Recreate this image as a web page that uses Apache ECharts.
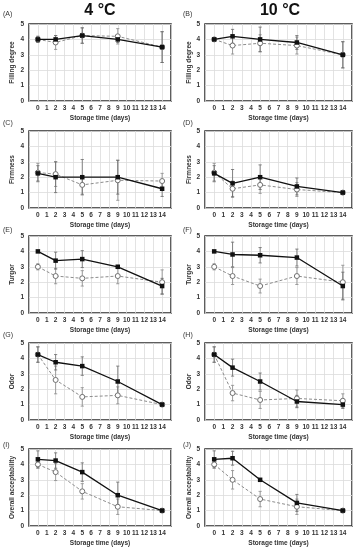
<!DOCTYPE html>
<html><head><meta charset="utf-8">
<script src="https://cdn.jsdelivr.net/npm/echarts@6/dist/echarts.min.js"></script>
<style>html,body{margin:0;padding:0;background:#fff}#c{width:360px;height:550px}</style>
</head><body><div id="c"></div>
<script>
// ---- data ----
const days = [0, 2, 5, 9, 14];
const xTickLabels = ['0','1','2','3','4','5','6','7','8','9','10','11','12','13','14'];
const yTicks = [0, 1, 2, 3, 4, 5];
const tempTitles = ['4 °C', '10 °C'];
const xName = 'Storage time (days)';

// (A) Filling degree 4 °C
const fill4Solid = [4.0, 4.0, 4.25, 4.0, 3.5];
const fill4SolidSd = [0.2, 0.25, 0.5, 0.2, 1.0];
const fill4Dashed = [4.0, 3.8, 4.25, 4.2, 3.5];
const fill4DashedSd = [0.2, 0.45, 0.5, 0.5, 1.0];
// (B) Filling degree 10 °C
const fill10Solid = [4.0, 4.2, 4.0, 3.8, 3.0];
const fill10SolidSd = [0.05, 0.45, 0.8, 0.45, 0.85];
const fill10Dashed = [4.0, 3.6, 3.75, 3.6, 3.0];
const fill10DashedSd = [0.05, 0.55, 0.55, 0.55, 0.85];
// (C) Firmness 4 °C
const firm4Solid = [2.25, 2.0, 2.0, 2.0, 1.25];
const firm4SolidSd = [0.5, 1.0, 1.15, 1.1, 0.5];
const firm4Dashed = [2.3, 2.2, 1.5, 1.8, 1.75];
const firm4DashedSd = [0.6, 0.8, 0.6, 1.3, 0.5];
// (D) Firmness 10 °C
const firm10Solid = [2.25, 1.6, 2.0, 1.4, 1.0];
const firm10SolidSd = [0.5, 0.9, 0.8, 0.55, 0.05];
const firm10Dashed = [2.3, 1.25, 1.5, 1.2, 1.0];
const firm10DashedSd = [0.6, 0.5, 0.55, 0.45, 0.05];
// (E) Turgor 4 °C
const turg4Solid = [4.0, 3.4, 3.5, 3.0, 1.75];
const turg4SolidSd = [0.05, 0.55, 0.55, 0.1, 0.5];
const turg4Dashed = [3.0, 2.4, 2.25, 2.4, 2.0];
const turg4DashedSd = [0.2, 0.5, 0.5, 0.5, 0.8];
// (F) Turgor 10 °C
const turg10Solid = [4.0, 3.8, 3.75, 3.6, 1.75];
const turg10SolidSd = [0.05, 0.8, 0.5, 0.55, 0.9];
const turg10Dashed = [3.0, 2.4, 1.75, 2.4, 2.0];
const turg10DashedSd = [0.2, 0.55, 0.45, 0.55, 1.1];
// (G) Odor 4 °C
const odor4Solid = [4.25, 3.75, 3.5, 2.5, 1.0];
const odor4SolidSd = [0.5, 0.5, 0.6, 1.0, 0.05];
const odor4Dashed = [4.25, 2.6, 1.5, 1.6, 1.0];
const odor4DashedSd = [0.5, 0.9, 0.6, 0.55, 0.05];
// (H) Odor 10 °C
const odor10Solid = [4.25, 3.4, 2.5, 1.2, 1.0];
const odor10SolidSd = [0.5, 0.55, 0.55, 0.4, 0.25];
const odor10Dashed = [4.25, 1.75, 1.3, 1.4, 1.25];
const odor10DashedSd = [0.5, 0.5, 0.55, 0.55, 0.45];
// (I) Overall acceptability 4 °C
const acc4Solid = [4.33, 4.25, 3.5, 2.0, 1.0];
const acc4SolidSd = [0.55, 0.5, 0.6, 0.85, 0.05];
const acc4Dashed = [4.0, 3.5, 2.25, 1.25, 1.0];
const acc4DashedSd = [0.25, 0.55, 0.5, 0.5, 0.05];
// (J) Overall acceptability 10 °C
const acc10Solid = [4.33, 4.4, 3.0, 1.5, 1.0];
const acc10SolidSd = [0.55, 0.45, 0.05, 0.55, 0.05];
const acc10Dashed = [4.0, 3.0, 1.75, 1.25, 1.0];
const acc10DashedSd = [0.25, 0.6, 0.5, 0.5, 0.05];

const panels = [
  {tag:'(A)', yName:'Filling degree', s:fill4Solid, se:fill4SolidSd, d:fill4Dashed, de:fill4DashedSd},
  {tag:'(B)', yName:'Filling degree', s:fill10Solid, se:fill10SolidSd, d:fill10Dashed, de:fill10DashedSd},
  {tag:'(C)', yName:'Firmness', s:firm4Solid, se:firm4SolidSd, d:firm4Dashed, de:firm4DashedSd},
  {tag:'(D)', yName:'Firmness', s:firm10Solid, se:firm10SolidSd, d:firm10Dashed, de:firm10DashedSd},
  {tag:'(E)', yName:'Turgor', s:turg4Solid, se:turg4SolidSd, d:turg4Dashed, de:turg4DashedSd},
  {tag:'(F)', yName:'Turgor', s:turg10Solid, se:turg10SolidSd, d:turg10Dashed, de:turg10DashedSd},
  {tag:'(G)', yName:'Odor', s:odor4Solid, se:odor4SolidSd, d:odor4Dashed, de:odor4DashedSd},
  {tag:'(H)', yName:'Odor', s:odor10Solid, se:odor10SolidSd, d:odor10Dashed, de:odor10DashedSd},
  {tag:'(I)', yName:'Overall acceptability', s:acc4Solid, se:acc4SolidSd, d:acc4Dashed, de:acc4DashedSd},
  {tag:'(J)', yName:'Overall acceptability', s:acc10Solid, se:acc10SolidSd, d:acc10Dashed, de:acc10DashedSd}
];

// ---- layout ----
const FONT = 'Liberation Sans';
const colLeft = [29, 205];
const colWidth = [142, 147];
const rowTop = [24, 131, 236, 343, 449];
const plotH = 77;
const tagY = [14, 123, 230, 335, 445];

const grids = [], xAxes = [], yAxes = [], series = [], graphics = [];

function errRender(color) {
  return function (params, api) {
    const x = api.value(0), y = api.value(1), e = api.value(2);
    const hi = api.coord([x, y + e]);
    const lo = api.coord([x, y - e]);
    const w = 1.6;
    const st = {stroke: color, lineWidth: 0.8};
    return {type: 'group', children: [
      {type: 'line', shape: {x1: hi[0], y1: hi[1], x2: lo[0], y2: lo[1]}, style: st},
      {type: 'line', shape: {x1: hi[0] - w, y1: hi[1], x2: hi[0] + w, y2: hi[1]}, style: st},
      {type: 'line', shape: {x1: lo[0] - w, y1: lo[1], x2: lo[0] + w, y2: lo[1]}, style: st}
    ]};
  };
}

panels.forEach((p, i) => {
  const col = i % 2, row = Math.floor(i / 2);
  grids.push({left: colLeft[col], top: rowTop[row], width: colWidth[col], height: plotH,
    show: true, borderColor: '#2a2a2a', borderWidth: 1.5, backgroundColor: 'transparent'});
  xAxes.push({type: 'value', gridIndex: i, min: -1, max: 15, interval: 1,
    name: xName, nameLocation: 'middle', nameGap: 14,
    nameTextStyle: {fontFamily: FONT, fontSize: 6.5, fontWeight: 'bold', color: '#333'},
    axisLine: {show: false}, axisTick: {show: false},
    axisLabel: {fontFamily: FONT, fontSize: 6.5, fontWeight: 'bold', color: '#333', margin: 4,
      formatter: v => (v >= 0 && v < xTickLabels.length) ? xTickLabels[v] : ''},
    splitLine: {show: true, lineStyle: {color: '#dcdcdc', width: 0.8}}});
  yAxes.push({type: 'value', gridIndex: i, min: yTicks[0], max: yTicks[yTicks.length - 1], interval: 1,
    name: p.yName, nameLocation: 'middle', nameGap: col === 0 ? 13 : 11, nameRotate: 90,
    nameTextStyle: {fontFamily: FONT, fontSize: 6.5, fontWeight: 'bold', color: '#333'},
    axisLine: {show: false}, axisTick: {show: false},
    axisLabel: {fontFamily: FONT, fontSize: 6.5, fontWeight: 'bold', color: '#333', margin: 5},
    splitLine: {show: true, lineStyle: {color: '#dcdcdc', width: 0.8}}});

  series.push({type: 'custom', xAxisIndex: i, yAxisIndex: i, z: 1, silent: true,
    renderItem: errRender('#8a8a8a'), data: days.map((d, k) => [d, p.d[k], p.de[k]])});
  series.push({type: 'custom', xAxisIndex: i, yAxisIndex: i, z: 1, silent: true,
    renderItem: errRender('#6a6a6a'), data: days.map((d, k) => [d, p.s[k], p.se[k]])});
  series.push({type: 'line', xAxisIndex: i, yAxisIndex: i, z: 3,
    data: days.map((d, k) => [d, p.d[k]]),
    symbol: 'circle', symbolSize: 5,
    lineStyle: {color: '#8c8c8c', width: 1, type: [3, 2]},
    itemStyle: {color: '#fff', borderColor: '#707070', borderWidth: 1}});
  series.push({type: 'line', xAxisIndex: i, yAxisIndex: i, z: 4,
    data: days.map((d, k) => [d, p.s[k]]),
    symbol: 'rect', symbolSize: 4.5,
    lineStyle: {color: '#111', width: 1.3},
    itemStyle: {color: '#111'}});

  graphics.push({type: 'text', x: col === 0 ? 3 : 183, y: tagY[row],
    style: {text: p.tag, font: '7px ' + FONT, fill: '#333', align: 'left', verticalAlign: 'middle',
      textAlign: 'left', textVerticalAlign: 'middle'}});
});

graphics.push({type: 'text', x: 100, y: 11,
  style: {text: tempTitles[0], font: 'bold 16px ' + FONT, fill: '#111', align: 'center', verticalAlign: 'middle', textAlign: 'center', textVerticalAlign: 'middle'}});
graphics.push({type: 'text', x: 280, y: 11,
  style: {text: tempTitles[1], font: 'bold 16px ' + FONT, fill: '#111', align: 'center', verticalAlign: 'middle', textAlign: 'center', textVerticalAlign: 'middle'}});

const chart = echarts.init(document.getElementById('c'));
chart.setOption({animation: false, backgroundColor: '#fff',
  grid: grids, xAxis: xAxes, yAxis: yAxes, series: series, graphic: graphics});
</script></body></html>
